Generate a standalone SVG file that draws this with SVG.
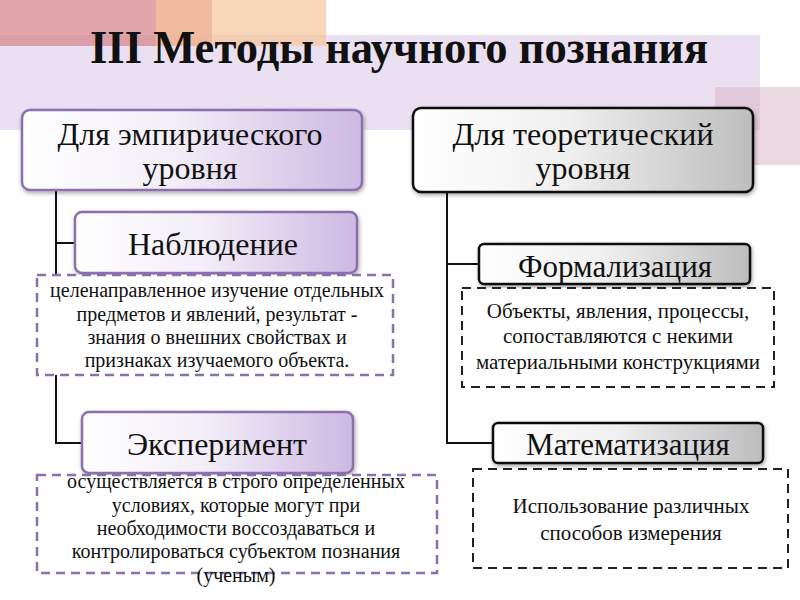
<svg xmlns="http://www.w3.org/2000/svg" width="800" height="600" viewBox="0 0 800 600">
<defs>
<linearGradient id="gp" x1="0" y1="0" x2="1" y2="0">
<stop offset="0" stop-color="#ffffff"/>
<stop offset="0.45" stop-color="#f3eef8"/>
<stop offset="1" stop-color="#cdb9e2"/>
</linearGradient>
<linearGradient id="gg" x1="0" y1="0" x2="1" y2="0">
<stop offset="0" stop-color="#ffffff"/>
<stop offset="0.45" stop-color="#f0f0f0"/>
<stop offset="1" stop-color="#bdbdbd"/>
</linearGradient>
<filter id="sh" x="-10%" y="-20%" width="120%" height="150%">
<feGaussianBlur in="SourceAlpha" stdDeviation="2"/>
<feOffset dx="1" dy="2" result="b"/>
<feComponentTransfer><feFuncA type="linear" slope="0.35"/></feComponentTransfer>
<feMerge><feMergeNode/><feMergeNode in="SourceGraphic"/></feMerge>
</filter>
</defs>
<style>
.t{font-family:"Liberation Serif","Times New Roman",serif;fill:#111;text-anchor:middle}
.top{font-size:32px}
.big{font-size:32px}
.rb{font-size:31px}
.mid{font-size:20px}
.rm{font-size:21px}
.bp{fill:url(#gp);stroke:#8a70ae;stroke-width:2.5}
.bg{fill:url(#gg);stroke:#111;stroke-width:2.5}
.dp{fill:#fff;stroke:#8a70ae;stroke-width:2.5;stroke-dasharray:9 6}
.dk{fill:#fff;stroke:#222;stroke-width:2;stroke-dasharray:9 6}
.c{fill:none;stroke:#111;stroke-width:2}
</style>
<rect width="800" height="600" fill="#fff"/>
<g id="background">
<rect x="0" y="35" width="760" height="95" fill="#ebe0f1"/>
<rect x="715" y="87" width="85" height="78" fill="#d9b4c4" opacity="0.5"/>
<rect x="0" y="0" width="212" height="46" fill="#d88a8e" opacity="0.75"/>
<rect x="156" y="0" width="170" height="46" fill="#f5c49a" opacity="0.7"/>
</g>
<text class="t" x="399" y="63" font-size="46" font-weight="bold" textLength="618" lengthAdjust="spacingAndGlyphs">III Методы научного познания</text>
<g id="connectors">
<polyline class="c" points="56,190 56,443 82,443"/>
<line class="c" x1="56" y1="243" x2="75" y2="243"/>
<polyline class="c" points="447,192 447,443 493,443"/>
<line class="c" x1="447" y1="264" x2="479" y2="264"/>
</g>
<g id="empirical">
<rect class="bp" x="22" y="110" width="340" height="80" rx="8" filter="url(#sh)"/>
<text class="t top" x="190" y="145">Для эмпирического</text>
<text class="t top" x="190" y="179">уровня</text>
</g>
<g id="theoretical">
<rect class="bg" x="413" y="108" width="340" height="84" rx="8" filter="url(#sh)"/>
<text class="t top" x="583" y="145">Для теоретический</text>
<text class="t top" x="583" y="179">уровня</text>
</g>
<g id="observation">
<rect class="bp" x="75" y="212" width="282" height="61" rx="7" filter="url(#sh)"/>
<text class="t big" x="213" y="255">Наблюдение</text>
</g>
<g id="observation-desc">
<rect class="dp" x="37" y="275" width="356" height="100"/>
<text class="t mid" x="217" y="297">целенаправленное изучение отдельных</text>
<text class="t mid" x="217" y="321">предметов и явлений,  результат -</text>
<text class="t mid" x="217" y="344">знания о внешних свойствах и</text>
<text class="t mid" x="217" y="367">признаках изучаемого объекта.</text>
</g>
<g id="experiment">
<rect class="bp" x="82" y="412" width="271" height="61" rx="7" filter="url(#sh)"/>
<text class="t big" x="217" y="455">Эксперимент</text>
</g>
<g id="experiment-desc">
<rect class="dp" x="37" y="475" width="400" height="98"/>
<text class="t mid" x="236" y="488">осуществляется в строго определенных</text>
<text class="t mid" x="236" y="512">условиях, которые могут при</text>
<text class="t mid" x="236" y="535">необходимости воссоздаваться и</text>
<text class="t mid" x="236" y="558">контролироваться субъектом познания</text>
<text class="t mid" x="236" y="582">(ученым)</text>
</g>
<g id="formalization">
<rect class="bg" x="479" y="244" width="271" height="40" rx="5" filter="url(#sh)"/>
<text class="t rb" x="615" y="277">Формализация</text>
</g>
<g id="formalization-desc">
<rect class="dk" x="462" y="288" width="312" height="99"/>
<text class="t rm" x="618" y="318">Объекты, явления, процессы,</text>
<text class="t rm" x="618" y="343">сопоставляются с некими</text>
<text class="t rm" x="618" y="369">материальными конструкциями</text>
</g>
<g id="mathematization">
<rect class="bg" x="493" y="423" width="270" height="40" rx="5" filter="url(#sh)"/>
<text class="t rb" x="628" y="455">Математизация</text>
</g>
<g id="mathematization-desc">
<rect class="dk" x="473" y="469" width="315" height="99"/>
<text class="t rm" x="631" y="513">Использование различных</text>
<text class="t rm" x="631" y="540">способов измерения</text>
</g>
</svg>
